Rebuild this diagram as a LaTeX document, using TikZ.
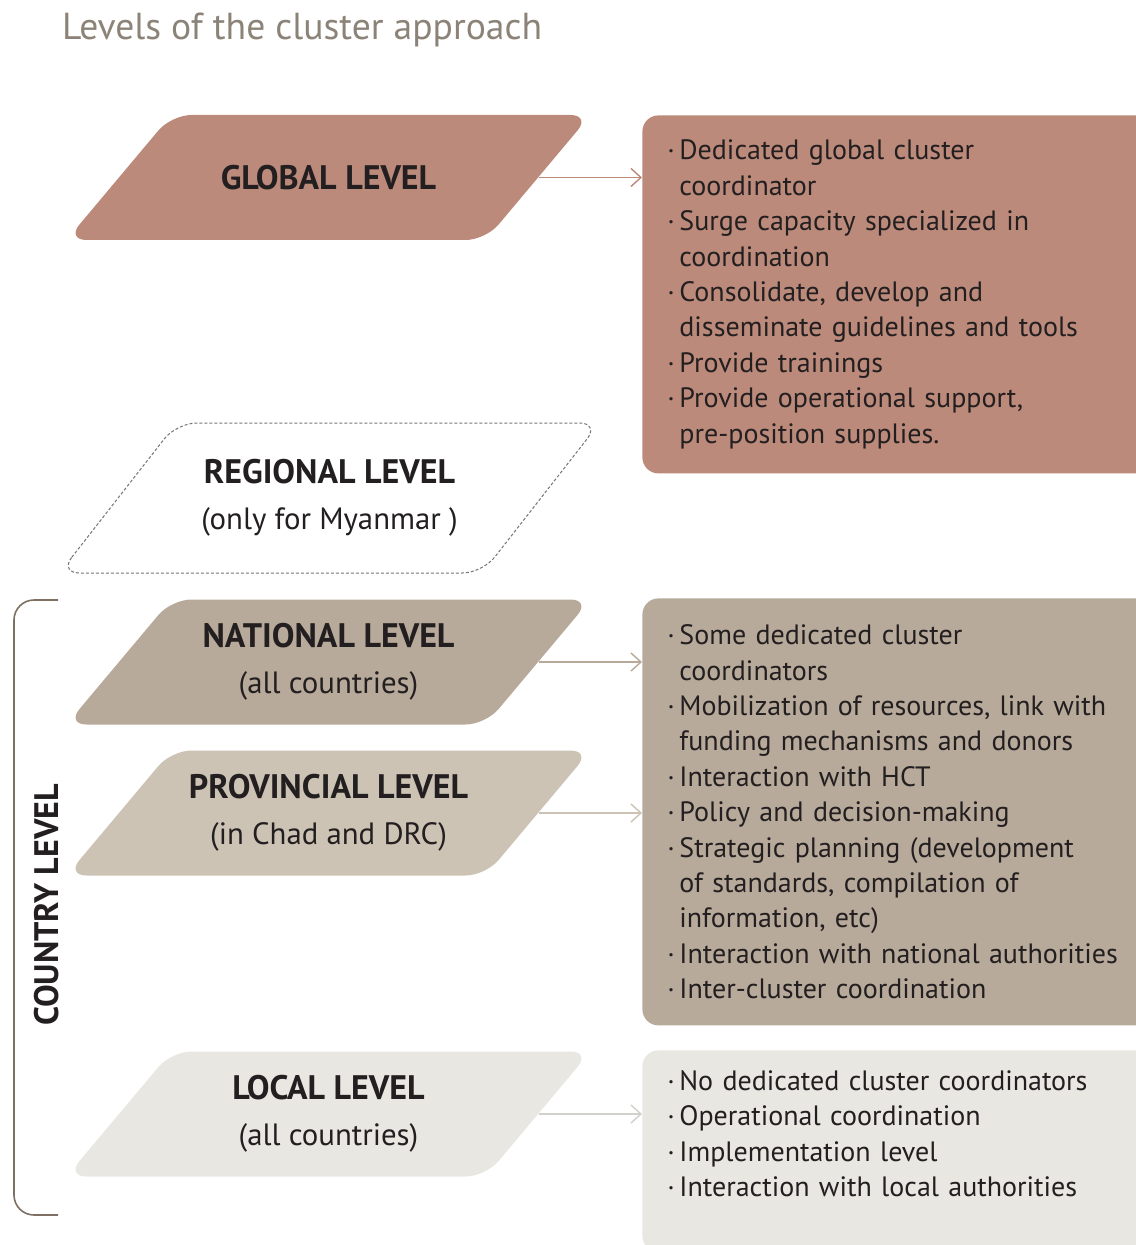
\documentclass[tikz,border=0pt]{standalone}
\usepackage{fontspec}
\setmainfont{PT Sans}
\usepackage{tikz}
\usetikzlibrary{positioning,shapes.geometric,arrows.meta}
\definecolor{GlobalRose}{RGB}{188,138,122}
\definecolor{NationalTaupe}{RGB}{184,170,154}
\definecolor{ProvSand}{RGB}{204,195,180}
\definecolor{LocalMist}{RGB}{232,231,226}
\definecolor{TitleGrey}{RGB}{140,131,120}
\definecolor{InkDark}{RGB}{35,31,32}
\definecolor{BracketBrown}{RGB}{125,112,99}
\definecolor{DashGrey}{RGB}{120,115,110}
\newcommand{\itm}{\makebox[6pt][l]{·}}
\newcommand{\cont}{\hspace*{6pt}}

\begin{document}
\begin{tikzpicture}[x=0.5pt, y=-0.5pt,
            level/.style={trapezium, trapezium left angle=50, trapezium right angle=130, trapezium stretches body, minimum width=262pt, minimum height=62.5pt, rounded corners=10pt, inner xsep=0pt, inner ysep=11.25pt, text=InkDark, font=\fontsize{15.4}{23}\selectfont,
                execute at begin node={\begin{minipage}[c][40pt][c]{150pt}\centering}, execute at end node={\end{minipage}}},
            info/.style={rectangle, anchor=north west, rounded corners=8pt, text width=240pt, inner xsep=12.5pt, inner ysep=10pt, align=left, text=InkDark, font=\fontsize{14}{17.7}\selectfont},
            arrow/.style={-{Straight Barb[length=5pt,width=9pt]}, line width=0.7pt}
        ]
            \useasboundingbox (0,0) rectangle (1135,1245);
            \node (title) [anchor=base west, text=TitleGrey, font=\fontsize{18.8}{24}\selectfont] at (55,40) {Levels of the cluster approach};

            % the levels
            \node (glob) [level, fill=GlobalRose] at (328.5,177.5) {{\bfseries\fontsize{17}{23}\selectfont GLOBAL LEVEL}};
            \node (reg) [level, trapezium left angle=52, trapezium right angle=128, draw=DashGrey, line width=0.5pt, dash pattern=on 1.5pt off 1pt, minimum width=270pt, minimum height=75pt, inner ysep=17.5pt] at (329.5,498) {{\bfseries\fontsize{17}{23}\selectfont REGIONAL LEVEL}\\(only for Myanmar )};
            \node (nat) [level, fill=NationalTaupe] at (328.5,662) {{\bfseries\fontsize{17}{23}\selectfont NATIONAL LEVEL}\\(all countries)};
            \node (prov) [level, fill=ProvSand] at (328.5,813) {{\bfseries\fontsize{17}{23}\selectfont PROVINCIAL LEVEL}\\(in Chad and DRC)};
            \node (loc) [level, fill=LocalMist] at (328.5,1114) {{\bfseries\fontsize{17}{23}\selectfont LOCAL LEVEL}\\(all countries)};

            % tasks at each level
            \node (globinfo) [info, fill=GlobalRose, minimum height=179pt] at (642,115) {\itm Dedicated global cluster\\ \cont coordinator\\ \itm Surge capacity specialized in\\ \cont coordination\\ \itm Consolidate, develop and\\ \cont disseminate guidelines and tools\\ \itm Provide trainings\\ \itm Provide operational support,\\ \cont pre-position supplies.};
            \node (natinfo) [info, fill=NationalTaupe, minimum height=213.5pt] at (642,598) {\itm Some dedicated cluster\\ \cont coordinators\\ \itm Mobilization of resources, link with\\ \cont funding mechanisms and donors\\ \itm Interaction with HCT\\ \itm Policy and decision-making\\ \itm Strategic planning (development\\ \cont of standards, compilation of\\ \cont information, etc)\\ \itm Interaction with national authorities\\ \itm Inter-cluster coordination};
            \node (locinfo) [info, fill=LocalMist] at (642,1050) {\itm No dedicated cluster coordinators\\ \itm Operational coordination\\ \itm Implementation level\\ \itm Interaction with local authorities\\ \mbox{}};

            \draw [arrow, GlobalRose] (glob.east) -- (glob.east -| globinfo.west);
            \draw [arrow, NationalTaupe] (nat.east) -- (nat.east -| natinfo.west);
            \draw [arrow, ProvSand] (prov.east) -- (prov.east -| natinfo.west);
            \draw [arrow, LocalMist!90!black] (loc.east) -- (loc.east -| locinfo.west);

            % country level bracket
            \draw [BracketBrown, line width=0.8pt, rounded corners=10pt] (58,600) -- (14,600) -- (14,1215) -- (58,1215);
            \node (country) [rotate=90, text=InkDark, font=\bfseries\fontsize{17}{20}\selectfont] at (47,905) {COUNTRY LEVEL};
        \end{tikzpicture}
\end{document}
